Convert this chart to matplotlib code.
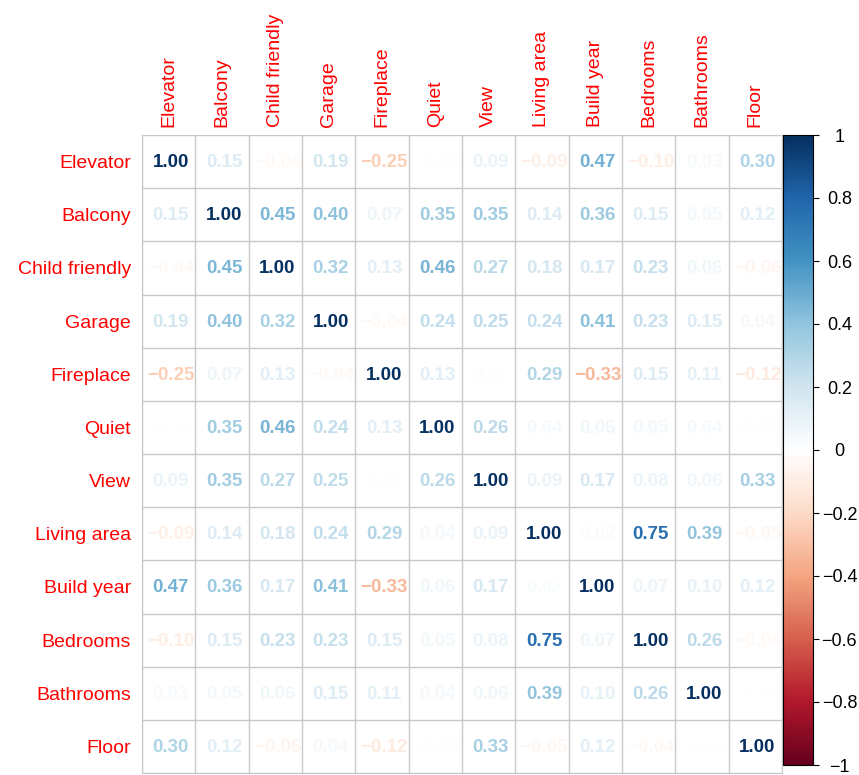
import numpy as np
import matplotlib
matplotlib.use("Agg")
import matplotlib.pyplot as plt
from matplotlib.colors import LinearSegmentedColormap, Normalize
import matplotlib.cm as cm

labels = ["Elevator", "Balcony", "Child friendly", "Garage", "Fireplace", "Quiet",
          "View", "Living area", "Build year", "Bedrooms", "Bathrooms", "Floor"]

r_elevator = [1.00, 0.15, -0.04, 0.19, -0.25, -0.01, 0.09, -0.09, 0.47, -0.10, 0.03, 0.30]
r_balcony = [0.15, 1.00, 0.45, 0.40, 0.07, 0.35, 0.35, 0.14, 0.36, 0.15, 0.05, 0.12]
r_child = [-0.04, 0.45, 1.00, 0.32, 0.13, 0.46, 0.27, 0.18, 0.17, 0.23, 0.06, -0.06]
r_garage = [0.19, 0.40, 0.32, 1.00, -0.04, 0.24, 0.25, 0.24, 0.41, 0.23, 0.15, 0.04]
r_fireplace = [-0.25, 0.07, 0.13, -0.04, 1.00, 0.13, 0.01, 0.29, -0.33, 0.15, 0.11, -0.12]
r_quiet = [-0.01, 0.35, 0.46, 0.24, 0.13, 1.00, 0.26, 0.04, 0.06, 0.05, 0.04, -0.02]
r_view = [0.09, 0.35, 0.27, 0.25, 0.01, 0.26, 1.00, 0.09, 0.17, 0.08, 0.06, 0.33]
r_living = [-0.09, 0.14, 0.18, 0.24, 0.29, 0.04, 0.09, 1.00, 0.02, 0.75, 0.39, -0.05]
r_build = [0.47, 0.36, 0.17, 0.41, -0.33, 0.06, 0.17, 0.02, 1.00, 0.07, 0.10, 0.12]
r_bedrooms = [-0.10, 0.15, 0.23, 0.23, 0.15, 0.05, 0.08, 0.75, 0.07, 1.00, 0.26, -0.04]
r_bathrooms = [0.03, 0.05, 0.06, 0.15, 0.11, 0.04, 0.06, 0.39, 0.10, 0.26, 1.00, -0.01]
r_floor = [0.30, 0.12, -0.06, 0.04, -0.12, -0.02, 0.33, -0.05, 0.12, -0.04, -0.01, 1.00]

cbar_ticks = [-1, -0.8, -0.6, -0.4, -0.2, 0, 0.2, 0.4, 0.6, 0.8, 1]
cbar_labels = ["\u22121", "\u22120.8", "\u22120.6", "\u22120.4", "\u22120.2", "0",
               "0.2", "0.4", "0.6", "0.8", "1"]

M = np.array([r_elevator, r_balcony, r_child, r_garage, r_fireplace, r_quiet,
              r_view, r_living, r_build, r_bedrooms, r_bathrooms, r_floor])
n = len(labels)

cols = ["#67001F", "#B2182B", "#D6604D", "#F4A582", "#FDDBC7", "#FFFFFF",
        "#D1E5F0", "#92C5DE", "#4393C3", "#2166AC", "#053061"]
cmap = LinearSegmentedColormap.from_list("corr", cols, N=200)
norm = Normalize(-1, 1)

W, H = 859, 775
fig = plt.figure(figsize=(W / 100, H / 100), dpi=100)
ax = fig.add_axes([142 / W, (H - 773) / H, 640 / W, 638 / H])
ax.set_xlim(-0.5, n - 0.5)
ax.set_ylim(n - 0.5, -0.5)

num_font = ["Liberation Sans", "DejaVu Sans"]
lab_font = ["Liberation Sans", "DejaVu Sans"]

for i in range(n):
    for j in range(n):
        v = M[i, j]
        s = f"{v:.2f}".replace("-", "\u2212")
        ax.text(j + 0.04, i + 0.02, s, ha="center", va="center",
                fontsize=13.5, fontweight="bold", family=num_font,
                color=cmap(norm(v)))

ax.set_xticks(np.arange(n + 1) - 0.5, minor=True)
ax.set_yticks(np.arange(n + 1) - 0.5, minor=True)
ax.grid(which="minor", color="#C8C8C8", linewidth=1)
ax.tick_params(which="both", length=0)
ax.set_xticks(np.arange(n))
ax.set_yticks(np.arange(n))
ax.set_xticklabels(labels, rotation=90, color="red", fontsize=14, family=lab_font)
ax.set_yticklabels(labels, color="red", fontsize=14, family=lab_font)
ax.xaxis.tick_top()
ax.tick_params(axis="x", pad=6)
ax.tick_params(axis="y", pad=8)
for sp in ax.spines.values():
    sp.set_color("#C8C8C8")

cax = fig.add_axes([783 / W, (H - 765) / H, 30 / W, 630 / H])
cb = fig.colorbar(cm.ScalarMappable(norm=norm, cmap=cmap), cax=cax)
cb.set_ticks(cbar_ticks)
cb.set_ticklabels(cbar_labels)
cb.outline.set_linewidth(0.8)
cax.tick_params(length=4, pad=15, labelsize=13)
for t in cax.get_yticklabels():
    t.set_horizontalalignment("center")
    t.set_family(lab_font)

fig.savefig("out.png", dpi=100)
